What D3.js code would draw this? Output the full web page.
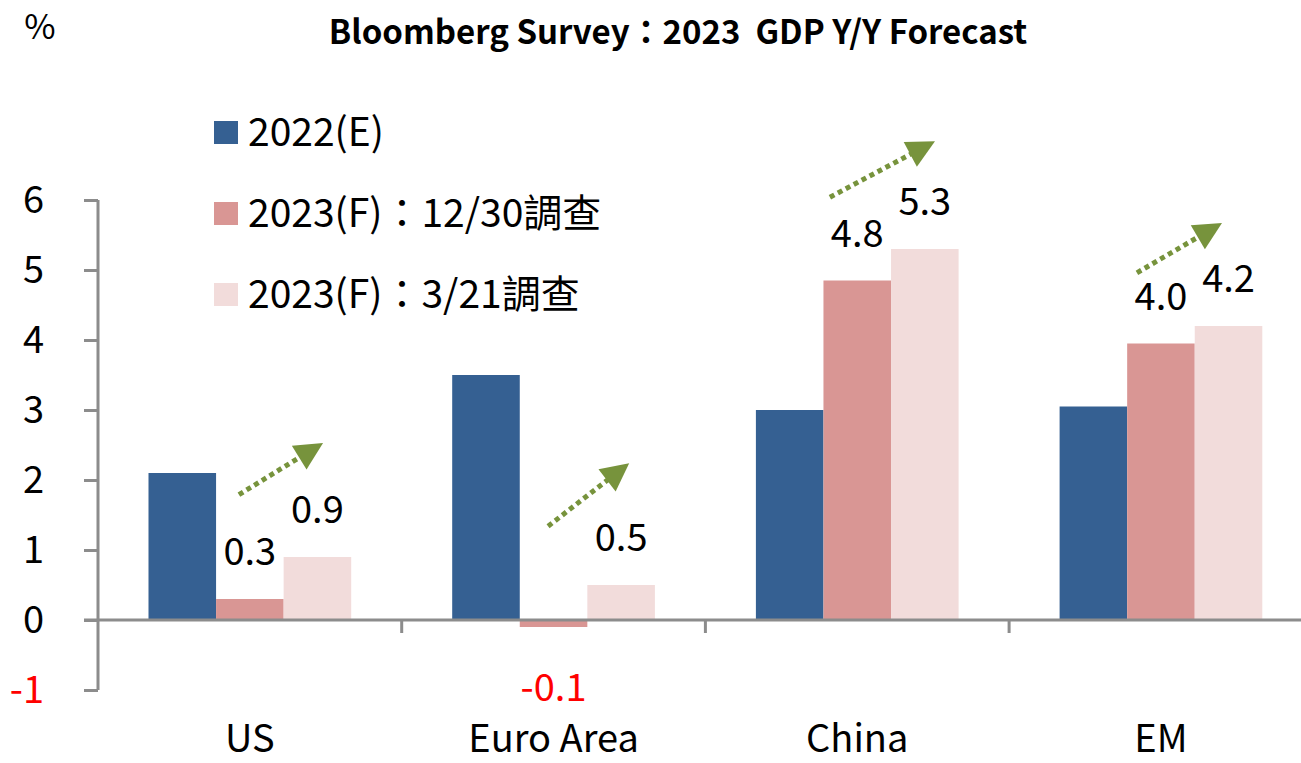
<!doctype html>
<html>
<head>
<meta charset="utf-8">
<style>
  body { margin: 0; background: #fff; }
  svg text { font-family: "Noto Sans CJK TC", "Noto Sans", sans-serif; white-space: pre; }
</style>
</head>
<body>
<script src="https://d3js.org/d3.v7.min.js"></script>
<script>

  // data
  var categories = ["US", "Euro Area", "China", "EM"];
  var seriesNames = ["2022(E)", "2023(F)\uff1a12/30調查", "2023(F)\uff1a3/21調查"];
  var gdp2022 = [2.1, 3.5, 3.0, 3.05];
  var gdpDec30 = [0.3, -0.1, 4.85, 3.95];
  var gdpMar21 = [0.9, 0.5, 5.3, 4.2];
  var yTicks = [-1, 0, 1, 2, 3, 4, 5, 6];
  // arrows: category, start (band fraction, value), tip (band fraction, value)
  var arrowCat = ["US", "Euro Area", "China", "EM"];
  var arrowFrom = [[0.464, 1.79], [0.482, 1.34], [0.410, 6.04], [0.421, 4.96]];
  var arrowTo = [[0.741, 2.53], [0.749, 2.24], [0.756, 6.84], [0.701, 5.67]];

  var colors = ["#356092", "#D99694", "#F2DCDB"];
  var axisColor = "#8C8C8C";
  var arrowColor = "#77933C";

  var width = 1301, height = 763;
  var svg = d3.select("body").append("svg").attr("width", width).attr("height", height);

  var bandW = 303.7;
  var x0 = d3.scaleBand().domain(categories).range([98, 98 + 4 * bandW]);
  var x1 = d3.scaleBand().domain(d3.range(3)).range([50.5, bandW - 50.5]);
  var y = d3.scaleLinear().domain([-1, 6]).range([690, 200]);

  var rows = categories.map(function(c, i){
    return [gdp2022[i], gdpDec30[i], gdpMar21[i]];
  });

  // title
  svg.append("text").attr("x", 40).attr("y", 39).attr("text-anchor", "middle")
    .style("font-size", "34px").text("%");
  svg.append("text").attr("x", 678).attr("y", 44).attr("text-anchor", "middle")
    .style("font-size", "33px").style("font-weight", "bold")
    .text("Bloomberg Survey\uff1a2023  GDP Y/Y Forecast");

  // bars
  var groups = svg.append("g").selectAll("g").data(rows).enter().append("g")
    .attr("transform", function(d, i){ return "translate(" + x0(categories[i]) + ",0)"; });
  groups.selectAll("rect").data(function(d){ return d; }).enter().append("rect")
    .attr("x", function(d, j){ return x1(j); })
    .attr("width", x1.bandwidth())
    .attr("y", function(d){ return y(Math.max(0, d)); })
    .attr("height", function(d){ return Math.abs(y(d) - y(0)); })
    .attr("fill", function(d, j){ return colors[j]; });

  // value labels (2023 series only)
  groups.selectAll("text.val").data(function(d){ return d.slice(1); }).enter().append("text")
    .attr("class", "val")
    .attr("x", function(d, j){ return x1(j + 1) + x1.bandwidth() / 2; })
    .attr("y", function(d){ return d < 0 ? y(-1) + 11 : y(d) - 34; })
    .attr("text-anchor", "middle")
    .style("font-size", "38px")
    .attr("fill", function(d){ return d < 0 ? "#FF0000" : "#000"; })
    .text(function(d){ return d.toFixed(1); });

  // y axis
  var yAxis = svg.append("g").attr("transform", "translate(98,0)")
    .call(d3.axisLeft(y).tickValues(yTicks).tickSize(14).tickSizeOuter(0).tickPadding(40)
      .tickFormat(function(d){ return String(d); }));
  yAxis.selectAll("path, line").attr("stroke", axisColor).attr("stroke-width", 3);
  yAxis.select(".domain").attr("d", "M0," + y(-1) + "V" + y(6));
  yAxis.selectAll("text").style("font-size", "38px").attr("font-family", null)
    .attr("fill", function(d){ return d < 0 ? "#FF0000" : "#000"; });

  // x axis line at zero
  svg.append("line").attr("x1", 84).attr("x2", width).attr("y1", y(0)).attr("y2", y(0))
    .attr("stroke", axisColor).attr("stroke-width", 3);
  svg.append("g").selectAll("line").data(categories.slice(1)).enter().append("line")
    .attr("x1", function(d){ return x0(d); }).attr("x2", function(d){ return x0(d); })
    .attr("y1", y(0)).attr("y2", y(0) + 13)
    .attr("stroke", axisColor).attr("stroke-width", 3);

  // category labels
  svg.append("g").selectAll("text").data(categories).enter().append("text")
    .attr("x", function(d){ return x0(d) + bandW / 2; })
    .attr("y", 752)
    .attr("text-anchor", "middle")
    .style("font-size", "38px")
    .text(function(d){ return d; });

  // legend
  var legend = svg.append("g").selectAll("g").data(seriesNames).enter().append("g")
    .attr("transform", function(d, i){ return "translate(214," + (132 + i * 81) + ")"; });
  legend.append("rect").attr("x", 0).attr("y", -11).attr("width", 24).attr("height", 23)
    .attr("fill", function(d, i){ return colors[i]; });
  legend.append("text").attr("x", 34).attr("y", 14)
    .style("font-size", "39px").text(function(d){ return d; });

  // dotted arrows
  var arrows = svg.append("g");
  arrowCat.forEach(function(c, i){
    var sx = x0(c) + arrowFrom[i][0] * bandW, sy = y(arrowFrom[i][1]);
    var tx = x0(c) + arrowTo[i][0] * bandW, ty = y(arrowTo[i][1]);
    var dx = tx - sx, dy = ty - sy, len = Math.sqrt(dx * dx + dy * dy);
    var ux = dx / len, uy = dy / len;
    var hl = 28, hw = 14;
    var bx = tx - ux * hl, by = ty - uy * hl;
    arrows.append("line")
      .attr("x1", sx).attr("y1", sy).attr("x2", bx + ux * 4).attr("y2", by + uy * 4)
      .attr("stroke", arrowColor).attr("stroke-width", 5).attr("stroke-dasharray", "5,4");
    arrows.append("path")
      .attr("d", "M" + tx + "," + ty + "L" + (bx - uy * hw) + "," + (by + ux * hw) +
                 "L" + (bx + uy * hw) + "," + (by - ux * hw) + "Z")
      .attr("fill", arrowColor);
  });

</script>
</body>
</html>
